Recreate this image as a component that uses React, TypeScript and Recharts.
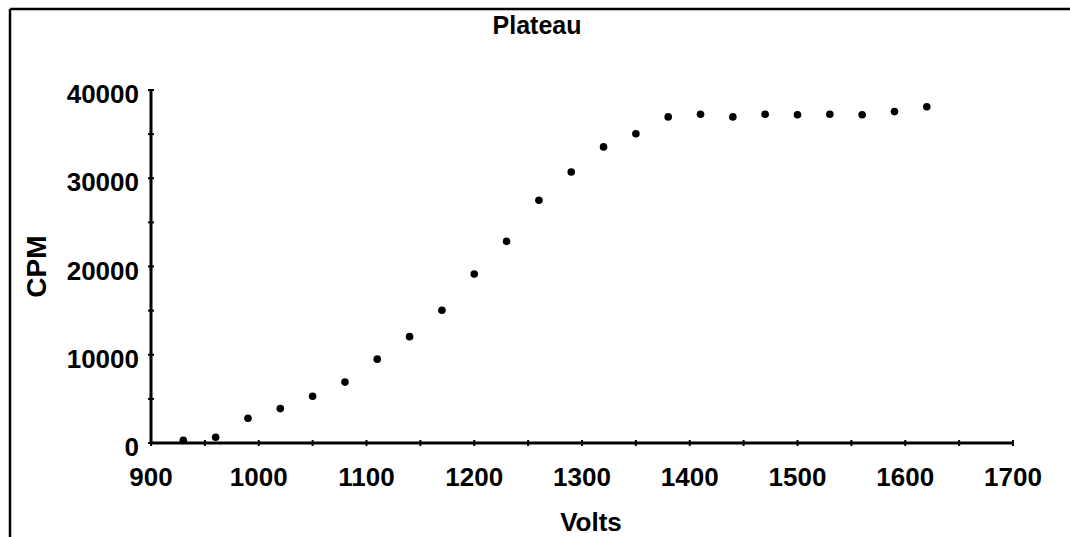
import { ScatterChart, Scatter, XAxis, YAxis, Label } from 'recharts';

// Plateau curve: counts per minute against tube voltage
const volts = [930, 960, 990, 1020, 1050, 1080, 1110, 1140, 1170, 1200, 1230, 1260, 1290, 1320, 1350, 1380, 1410, 1440, 1470, 1500, 1530, 1560, 1590, 1620];
const cpm = [300, 650, 2800, 3900, 5300, 6900, 9500, 12050, 15050, 19150, 22850, 27500, 30700, 33550, 35050, 36950, 37250, 36950, 37250, 37200, 37250, 37200, 37550, 38100];

const voltTicks = [900, 950, 1000, 1050, 1100, 1150, 1200, 1250, 1300, 1350, 1400, 1450, 1500, 1550, 1600, 1650, 1700];
const cpmTicks = [0, 5000, 10000, 15000, 20000, 25000, 30000, 35000, 40000];

const W = 1070;
const H = 537;
const FONT = '"Liberation Sans", Arial, sans-serif';

const points = volts.map((v, i) => ({ volts: v, cpm: cpm[i] }));

const XTick = (props: any) => {
  const { x, y, payload } = props;
  const major = payload.value % 100 === 0;
  return (
    <g>
      <line x1={x} y1={y - 3} x2={x} y2={y + 3} stroke="#000" strokeWidth={2} />
      {major && (
        <text x={x} y={y + 43} textAnchor="middle" fontFamily={FONT} fontWeight="bold" fontSize={26} fill="#000">
          {payload.value}
        </text>
      )}
    </g>
  );
};

const YTick = (props: any) => {
  const { x, y, payload } = props;
  const major = payload.value % 10000 === 0;
  return (
    <g>
      <line x1={x - 3} y1={y} x2={x + 3} y2={y} stroke="#000" strokeWidth={2} />
      {major && (
        <text x={x - 12} y={y + 13} textAnchor="end" fontFamily={FONT} fontWeight="bold" fontSize={26} fill="#000">
          {payload.value}
        </text>
      )}
    </g>
  );
};

const Dot = (props: any) => <circle cx={props.cx} cy={props.cy} r={3.8} fill="#000" />;

export default function App() {
  return (
    <div style={{ position: 'absolute', left: 0, top: 0, width: W, height: H, background: '#fff' }}>
      <ScatterChart width={W} height={H} margin={{ top: 90, right: 57, bottom: 34, left: 51 }}>
        <XAxis
          type="number"
          dataKey="volts"
          domain={[900, 1700]}
          ticks={voltTicks}
          interval={0}
          height={60}
          tickSize={0}
          tickMargin={0}
          tickLine={false}
          axisLine={{ stroke: '#000', strokeWidth: 3 }}
          tick={<XTick />}
        >
          <Label
            content={(p: any) => (
              <text
                x={p.viewBox.x + p.viewBox.width / 2 + 9}
                y={531}
                textAnchor="middle"
                fontFamily={FONT}
                fontWeight="bold"
                fontSize={26}
                fill="#000"
              >
                Volts
              </text>
            )}
          />
        </XAxis>
        <YAxis
          type="number"
          dataKey="cpm"
          domain={[0, 40000]}
          ticks={cpmTicks}
          interval={0}
          width={100}
          tickSize={0}
          tickMargin={0}
          tickLine={false}
          axisLine={{ stroke: '#000', strokeWidth: 3 }}
          tick={<YTick />}
        >
          <Label
            content={(p: any) => {
              const cx = p.viewBox.x - 15;
              const cy = p.viewBox.y + p.viewBox.height / 2;
              return (
                <text
                  x={cx}
                  y={cy}
                  transform={`rotate(-90 ${cx} ${cy})`}
                  textAnchor="middle"
                  dominantBaseline="central"
                  fontFamily={FONT}
                  fontWeight="bold"
                  fontSize={28}
                  fill="#000"
                >
                  CPM
                </text>
              );
            }}
          />
        </YAxis>
        <Scatter data={points} shape={<Dot />} isAnimationActive={false} />
      </ScatterChart>
      <svg width={W} height={H} style={{ position: 'absolute', left: 0, top: 0, pointerEvents: 'none' }}>
        <line x1={10} y1={9} x2={W} y2={9} stroke="#000" strokeWidth={2.5} />
        <line x1={10} y1={9} x2={10} y2={H} stroke="#000" strokeWidth={2.5} />
        <text x={537} y={34} textAnchor="middle" fontFamily={FONT} fontWeight="bold" fontSize={25} fill="#000">
          Plateau
        </text>
      </svg>
    </div>
  );
}
